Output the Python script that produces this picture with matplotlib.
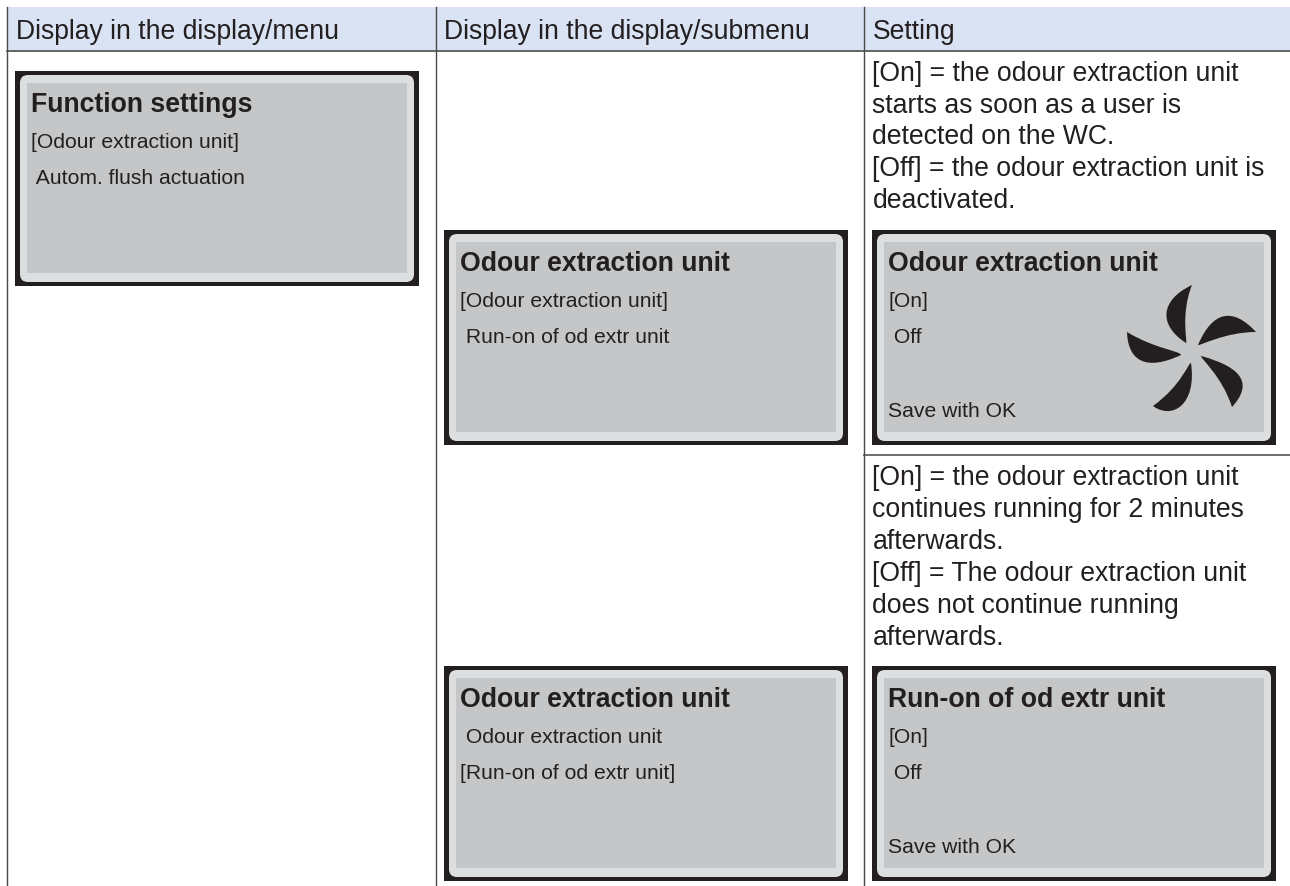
import matplotlib
matplotlib.use("Agg")
import matplotlib.pyplot as plt
from matplotlib.patches import Rectangle, FancyBboxPatch, PathPatch
from matplotlib.path import Path

W, H = 1290, 886
INK = "#231f20"
plt.rcParams["font.family"] = ["Liberation Sans", "DejaVu Sans"]

headers = ["Display in the display/menu", "Display in the display/submenu", "Setting"]
header_x = [16, 444.5, 873]
panels = [
    (15, 71, "Function settings", ["[Odour extraction unit]", " Autom. flush actuation"], None),
    (444, 230, "Odour extraction unit", ["[Odour extraction unit]", " Run-on of od extr unit"], None),
    (872, 230, "Odour extraction unit", ["[On]", " Off"], "Save with OK"),
    (444, 666, "Odour extraction unit", [" Odour extraction unit", "[Run-on of od extr unit]"], None),
    (872, 666, "Run-on of od extr unit", ["[On]", " Off"], "Save with OK"),
]
settings_1 = ["[On] = the odour extraction unit", "starts as soon as a user is",
              "detected on the WC.", "[Off] = the odour extraction unit is", "deactivated."]
settings_1_y = [81, 113, 144, 176, 208]
settings_2 = ["[On] = the odour extraction unit", "continues running for 2 minutes",
              "afterwards.", "[Off] = The odour extraction unit", "does not continue running", "afterwards."]
settings_2_y = [485, 517, 549, 581, 613, 645]

# fan blades: outlines, in figure pixels
blades = [
    [(1192, 285), (1160, 300), (1158, 325), (1186, 343), (1188, 343), (1180, 315), (1192, 285)],
    [(1256, 332), (1232, 306), (1212, 312), (1198, 345), (1200, 346), (1225, 332), (1256, 332)],
    [(1232, 407), (1252, 385), (1245, 368), (1201, 356), (1200, 358), (1222, 376), (1232, 407)],
    [(1153, 406), (1172, 420), (1197, 405), (1191, 363), (1188, 363), (1182, 385), (1153, 406)],
    [(1127, 332), (1128, 362), (1147, 371), (1181, 355), (1181, 351), (1155, 349), (1127, 332)],
]

fig = plt.figure(figsize=(W / 100, H / 100), dpi=100, facecolor="white")
ax = fig.add_axes([0, 0, 1, 1])
ax.set_xlim(0, W)
ax.set_ylim(H, 0)
ax.axis("off")

ax.add_patch(Rectangle((7, 7), W - 7, 43, fc="#d9e3f3", ec="none", zorder=0))
ax.plot([7, W], [50.5, 50.5], color="#3c3a3b", lw=1.1, zorder=1)
ax.plot([864, W], [455, 455], color="#6d6b6c", lw=1.4, zorder=1)
for x in (7, 435.5, 864):
    ax.plot([x, x], [7, H], color="#4a4849", lw=1.0, zorder=1)

for t, x in zip(headers, header_x):
    ax.text(x, 39, t, fontsize=19.1, color=INK, va="baseline", ha="left")

for x, y, title, rows, footer in panels:
    ax.add_patch(Rectangle((x, y), 404, 215, fc="#231f20", ec="none", zorder=2))
    ax.add_patch(FancyBboxPatch((x + 5, y + 4), 394, 207, boxstyle="round,pad=0,rounding_size=8",
                                fc="#dcdee0", ec="none", zorder=3))
    ax.add_patch(Rectangle((x + 12, y + 12), 380, 190, fc="#c5c6c8", ec="none", zorder=4))
    ax.text(x + 16, y + 41, title, fontsize=19.2, fontweight="bold", color=INK, va="baseline", zorder=5)
    for i, t in enumerate(rows):
        ax.text(x + 16, y + 77 + 36 * i, t, fontsize=15.2, color=INK, va="baseline", zorder=5)
    if footer:
        ax.text(x + 16, y + 187, footer, fontsize=15.2, color=INK, va="baseline", zorder=5)

for lines, ys in ((settings_1, settings_1_y), (settings_2, settings_2_y)):
    for t, y in zip(lines, ys):
        ax.text(872.5, y, t, fontsize=19.2, color=INK, va="baseline", zorder=5)

codes = [Path.MOVETO, Path.CURVE4, Path.CURVE4, Path.CURVE4, Path.CURVE4, Path.CURVE4, Path.CURVE4]
for b in blades:
    ax.add_patch(PathPatch(Path(b, codes), fc=INK, ec="none", zorder=5))

fig.savefig("out.png", dpi=100)
